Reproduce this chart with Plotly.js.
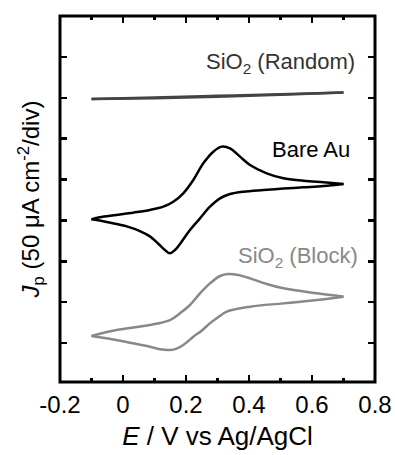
<!DOCTYPE html>
<html>
<head>
<meta charset="utf-8">
<script src="https://cdn.plot.ly/plotly-3.0.1.min.js"></script>
<style>html,body{margin:0;padding:0;background:#fff;}#chart{width:395px;height:455px;}</style>
</head>
<body>
<div id="chart"></div>
<script>
// Potential E (V vs Ag/AgCl) and offset current density J (µA cm^-2), 50 per division
// Bare Au: forward (anodic) scan and reverse scan
const auFwdE = [-0.1001,-0.0736,-0.0206,0.0324,0.0854,0.1278,0.1596,0.1914,0.2232,0.2550,0.2867,0.3133,0.3397,0.3715,0.4033,0.4563,0.5093,0.5729,0.6365,0.7001];
const auFwdJ = [151.3,153.8,156.6,159.5,162.8,166.8,172.9,183.2,199.5,219.9,234.1,240.3,238.2,228.0,217.8,207.6,201.5,198.6,196.6,194.6];
const auRevE = [0.7001,0.6365,0.5729,0.5093,0.4457,0.3821,0.3397,0.3079,0.2762,0.2444,0.2126,0.1861,0.1649,0.1490,0.1331,0.1119,0.0854,0.0536,0.0218,-0.0206,-0.0630,-0.1001];
const auRevJ = [194.6,192.1,190.5,188.9,187.2,185.2,182.3,177.0,166.8,152.5,138.3,124.0,113.8,109.7,113.8,121.5,130.5,137.0,141.5,145.6,148.9,151.3];

// SiO2 (Block)
const blockFwdE = [-0.1001,-0.0206,0.0854,0.1490,0.1808,0.2126,0.2444,0.2762,0.3079,0.3344,0.3662,0.4033,0.4563,0.5093,0.6153,0.7001];
const blockFwdJ = [8.6,15.9,22.0,28.1,36.3,46.5,60.8,73.0,82.0,84.4,83.2,79.1,72.2,66.9,60.8,56.7];
const blockRevE = [0.7001,0.6153,0.5093,0.4033,0.3291,0.2974,0.2762,0.2497,0.2232,0.1914,0.1702,0.1490,0.1172,0.0854,0.0324,-0.0206,-0.1001];
const blockRevJ = [56.7,52.6,48.5,44.5,38.3,30.2,24.1,15.1,7.7,-2.4,-6.9,-8.6,-7.7,-4.5,-0.4,3.7,8.6];

// SiO2 (Random)
const randFwdE = [-0.100,0.100,0.300,0.500,0.700];
const randFwdJ = [298.5,300.4,302.4,304.4,306.5];
const randRevE = [0.700,0.500,0.300,0.100,-0.100];
const randRevJ = [306.5,303.6,301.4,299.6,298.5];

const xTicks = [-0.2,0,0.2,0.4,0.6,0.8];
const xTickText = ['-0.2','0','0.2','0.4','0.6','0.8'];
const yTicks = [0,50,100,150,200,250,300,350];

const labels = ['SiO<sub>2</sub> (Random)','Bare Au','SiO<sub>2</sub> (Block)'];
const labelX = [0.743,0.727,0.753];
const labelY = [342.6,236.2,105.2];
const labelColor = ['#333333','#000000','#888888'];

const FONT = 'Liberation Sans, Arial, Helvetica, sans-serif';

function branch(x, y, color) {
  return {x: x, y: y, mode: 'lines', line: {color: color, width: 2.5, shape: 'spline', smoothing: 1}, hoverinfo: 'skip'};
}

const traces = [
  branch(randFwdE, randFwdJ, '#444444'),
  branch(randRevE, randRevJ, '#444444'),
  branch(auFwdE, auFwdJ, '#000000'),
  branch(auRevE, auRevJ, '#000000'),
  branch(blockFwdE, blockFwdJ, '#888888'),
  branch(blockRevE, blockRevJ, '#888888')
];

const layout = {
  width: 395, height: 455,
  margin: {l: 60, r: 20, t: 16, b: 73, pad: 0},
  paper_bgcolor: '#ffffff', plot_bgcolor: '#ffffff',
  showlegend: false,
  font: {family: FONT, color: '#000', size: 24},
  xaxis: {
    range: [-0.2, 0.8], tickvals: xTicks, ticktext: xTickText,
    ticks: 'inside', ticklen: 7, tickwidth: 2.5, tickcolor: '#000',
    minor: {dtick: 0.1, tick0: -0.1, ticks: 'inside', ticklen: 4, tickwidth: 2.5, tickcolor: '#000'},
    showline: false, mirror: 'allticks', showgrid: false, zeroline: false,
    ticklabelstandoff: 6,
    tickfont: {family: FONT, size: 24, color: '#000'},
    title: {text: '<i>E</i> / V vs Ag/AgCl', font: {family: FONT, size: 26, color: '#000'}, standoff: 9}
  },
  yaxis: {
    range: [-47.7, 400.1], tickvals: yTicks, showticklabels: false,
    ticks: 'inside', ticklen: 7, tickwidth: 2.5, tickcolor: '#000',
    showline: false, mirror: 'allticks', showgrid: false, zeroline: false,
    title: {text: '<i>J</i><sub>p</sub> (50 \u03bcA cm<sup>-2</sup>/div)', font: {family: FONT, size: 24, color: '#000'}, standoff: 12}
  },
  shapes: [{type: 'rect', xref: 'paper', yref: 'paper', x0: 0, x1: 1, y0: 0, y1: 1, line: {color: '#000', width: 3}, fillcolor: 'rgba(0,0,0,0)', layer: 'above'}],
  annotations: labels.map((t, i) => ({
    x: labelX[i], y: labelY[i], xref: 'x', yref: 'y', text: t, showarrow: false,
    xanchor: 'right', yanchor: 'middle', font: {family: FONT, size: 22, color: labelColor[i]}
  }))
};

Plotly.newPlot('chart', traces, layout, {staticPlot: true, displayModeBar: false});
</script>
</body>
</html>
